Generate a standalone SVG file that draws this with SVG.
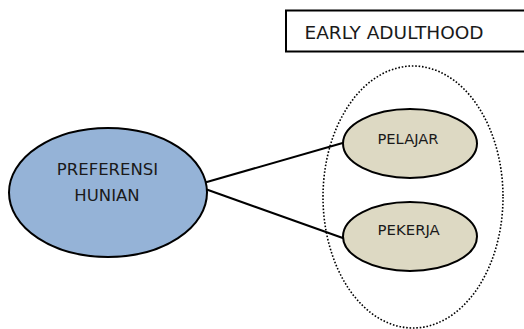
<svg xmlns="http://www.w3.org/2000/svg" width="524" height="329" viewBox="0 0 524 329">
<style>
  .lbl { font-family: "DejaVu Sans", Verdana, sans-serif; fill: #1a1a1a; text-anchor: middle; }
  .node { stroke: #000; stroke-width: 2; }
  .edge { stroke: #000; stroke-width: 2; fill: none; }
</style>
<rect x="0" y="0" width="524" height="329" fill="#fff"/>
<g id="title">
  <rect x="286" y="10.5" width="250" height="41" fill="#fff" stroke="#000" stroke-width="2"/>
  <text class="lbl" x="394" y="39.3" font-size="18.5">EARLY ADULTHOOD</text>
</g>
<g id="group-early-adulthood">
  <ellipse cx="413" cy="197" rx="90" ry="131" fill="none" stroke="#000" stroke-width="1.6" stroke-dasharray="1.6 1.8"/>
</g>
<g id="connectors">
  <line class="edge" x1="206" y1="182.3" x2="343.5" y2="142.7"/>
  <line class="edge" x1="206" y1="189.3" x2="343.5" y2="238.3"/>
</g>
<g id="preferensi">
  <ellipse class="node" cx="108" cy="192.5" rx="99" ry="64.5" fill="#95B3D7"/>
  <text class="lbl" x="107.5" y="175" font-size="16.5">PREFERENSI</text>
  <text class="lbl" x="107" y="200.7" font-size="16.5">HUNIAN</text>
</g>
<g id="pelajar">
  <ellipse class="node" cx="410" cy="143.5" rx="67" ry="34.5" fill="#DDD9C3"/>
  <text class="lbl" x="408" y="144" font-size="14.7">PELAJAR</text>
</g>
<g id="pekerja">
  <ellipse class="node" cx="410" cy="236.5" rx="67" ry="34.5" fill="#DDD9C3"/>
  <text class="lbl" x="408.7" y="235" font-size="14.9">PEKERJA</text>
</g>
</svg>
